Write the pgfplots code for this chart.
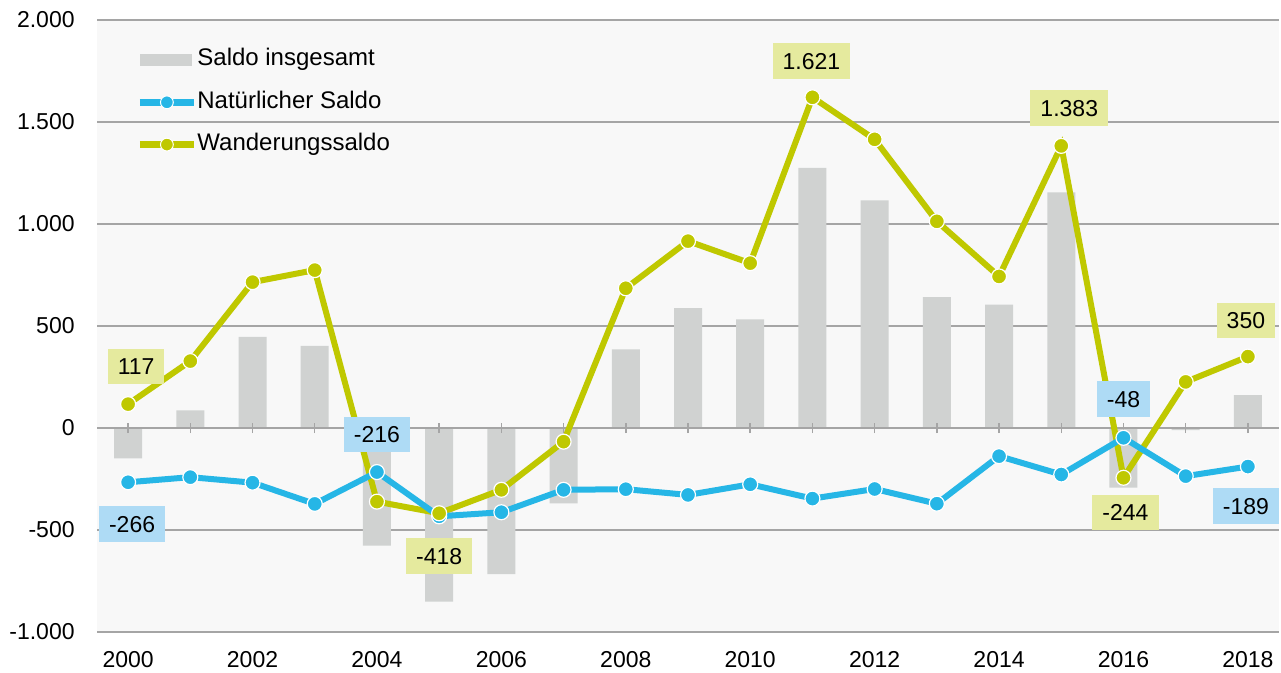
\documentclass[border=0pt]{standalone}
\usepackage{fontspec}
\setmainfont{Liberation Sans}
\usepackage{pgfplots}
\usepackage{pgfplotstable}
\pgfplotsset{compat=1.18}
\definecolor{barc}{RGB}{208,210,209}
\definecolor{bluec}{RGB}{38,182,230}
\definecolor{greenc}{RGB}{191,200,0}
\definecolor{ylab}{RGB}{229,234,158}
\definecolor{blab}{RGB}{174,219,245}
\definecolor{bgc}{RGB}{248,248,248}
\definecolor{gridc}{RGB}{165,165,165}
\pgfplotstableread{
year wand nat ges
2000 117 -266 -149
2001 328 -241 87
2002 715 -268 447
2003 774 -372 402
2004 -361 -216 -577
2005 -418 -433 -851
2006 -303 -413 -716
2007 -67 -303 -370
2008 685 -300 385
2009 916 -328 588
2010 808 -276 532
2011 1621 -346 1275
2012 1415 -299 1116
2013 1013 -371 642
2014 743 -138 605
2015 1383 -228 1155
2016 -244 -48 -292
2017 226 -236 -10
2018 350 -189 161
}\data
\pgfplotsset{
  lab/.style n args={4}{draw=none, mark=none, forget plot, nodes near coords, point meta=explicit symbolic,
    every node near coord/.append style={anchor=#2, xshift=#3, yshift=#4, fill=#1,
      inner xsep=5bp, inner ysep=4.75bp, text height=8.3bp, text depth=0pt,
      font=\fontsize{11.5bp}{13bp}\selectfont, text=black}},
}
\begin{document}
\begin{tikzpicture}
\begin{axis}[
  at={(0,0)}, anchor=south west,
  scale only axis, width=591bp, height=306bp,
  xmin=1999.5, xmax=2018.5, ymin=-1000, ymax=2000,
  axis background/.style={fill=bgc},
  axis line style={draw=none},
  ymajorgrids, grid style={gridc, line width=0.75bp},
  ytick={-1000,-500,0,500,1000,1500,2000},
  yticklabels={-1.000,-500,0,500,1.000,1.500,2.000},
  xtick={2000,2002,2004,2006,2008,2010,2012,2014,2016,2018},
  xticklabels={2000,2002,2004,2006,2008,2010,2012,2014,2016,2018},
  major tick length=0pt,
  tick label style={font=\fontsize{11.5bp}{13bp}\selectfont, inner sep=0pt},
  yticklabel style={anchor=east, xshift=-11bp},
  xticklabel style={anchor=north, yshift=-9.35bp},
  clip=false,
  legend style={at={(axis description cs:0,1)}, anchor=north west, xshift=19.5bp, yshift=-13.8bp,
    draw=none, fill=none, inner sep=0pt, row sep=9.15bp, column sep=0bp,
    font=\fontsize{12bp}{14bp}\selectfont,
    nodes={inner sep=0pt, text height=9bp, text depth=3bp}},
  legend cell align=left,
]
\addplot[ybar, bar width=14bp, bar shift=0pt, fill=barc, draw=none,
  legend image code/.code={\fill[barc] (0bp,-3bp) rectangle (26bp,3bp);}]
  table[x=year, y=ges] {\data};
\addlegendentry{Saldo insgesamt}
\addlegendimage{legend image code/.code={\draw[bluec, line width=3.5bp] (0bp,0bp) -- (27bp,0bp); \filldraw[fill=bluec, draw=white, line width=0.5bp] (13.5bp,0bp) circle (3.2bp);}}
\addlegendentry{Natürlicher Saldo}
\addlegendimage{legend image code/.code={\draw[greenc, line width=3.5bp] (0bp,0bp) -- (27bp,0bp); \filldraw[fill=greenc, draw=white, line width=0.5bp] (13.5bp,0bp) circle (3.2bp);}}
\addlegendentry{Wanderungssaldo}
\draw[gridc, line width=0.75bp] (axis cs:1999.5,0) -- (axis cs:2018.5,0);
\pgfplotsinvokeforeach{2000,...,2018}{
  \draw[gridc, line width=0.75bp] (axis cs:#1,-25) -- (axis cs:#1,25);
}
\addplot[greenc, line width=3bp, mark=none, forget plot] table[x=year, y=wand] {\data};
\addplot[bluec, line width=3bp, mark=*, mark size=3.75bp, forget plot,
  mark options={draw=white, fill=bluec, line width=0.6bp}]
  table[x=year, y=nat] {\data};
\addplot[only marks, mark=*, mark size=3.75bp,
  mark options={draw=white, fill=greenc, line width=0.6bp}, forget plot]
  table[x=year, y=wand] {\data};
% data labels
\addplot[lab={ylab}{south}{4bp}{9.8bp}] coordinates {(2000,117)[117]};
\addplot[lab={ylab}{south}{-0.5bp}{9bp}] coordinates {(2011,1621)[1.621]};
\addplot[lab={ylab}{south}{4bp}{9.8bp}] coordinates {(2015,1383)[1.383]};
\addplot[lab={ylab}{south}{-1bp}{9bp}] coordinates {(2018,350)[350]};
\addplot[lab={ylab}{north}{0bp}{-12.3bp}] coordinates {(2005,-418)[-418]};
\addplot[lab={ylab}{north}{1bp}{-8.2bp}] coordinates {(2016,-244)[-244]};
\addplot[lab={blab}{south}{0bp}{9.75bp}] coordinates {(2004,-216)[-216]};
\addplot[lab={blab}{south}{0bp}{10.3bp}] coordinates {(2016,-48)[-48]};
\addplot[lab={blab}{north}{2bp}{-11.8bp}] coordinates {(2000,-266)[-266]};
\addplot[lab={blab}{north}{-1bp}{-10.7bp}] coordinates {(2018,-189)[-189]};
\end{axis}
\pgfresetboundingbox
\path[use as bounding box] (-48.5bp,-20.5bp) rectangle (592bp,316bp);
\end{tikzpicture}
\end{document}
